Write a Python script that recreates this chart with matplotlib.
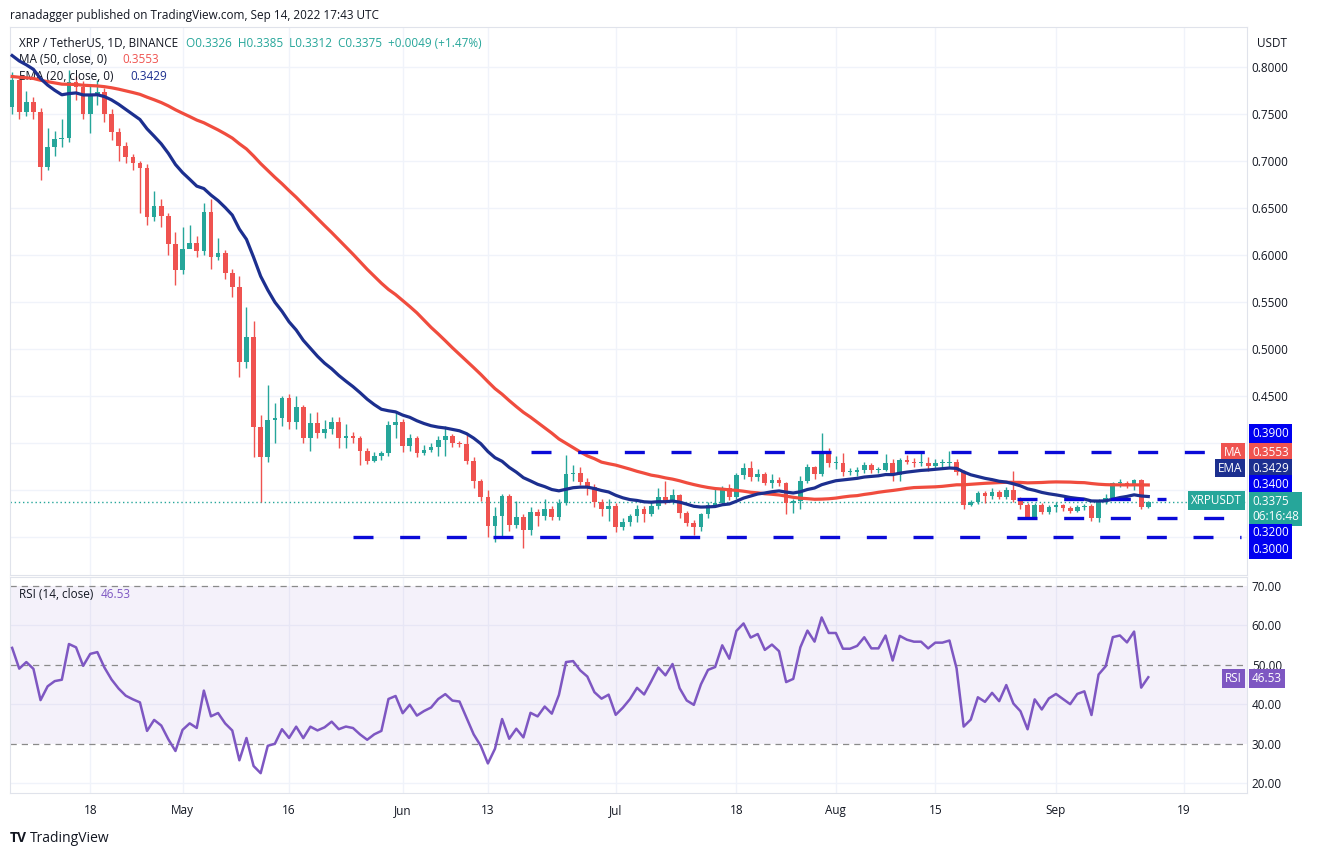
import numpy as np
import pandas as pd
import matplotlib
matplotlib.use("Agg")
import matplotlib.pyplot as plt
from matplotlib.patches import Rectangle
import matplotlib.transforms as mtransforms

plt.rcParams['font.family'] = ['Open Sans', 'DejaVu Sans']

# daily closes, XRP/USDT, Apr 7 .. Sep 14 2022
closes = [
    0.786, 0.752, 0.763, 0.752, 0.694, 0.715, 0.723, 0.725, 0.784, 0.779,
    0.750, 0.770, 0.773, 0.750, 0.731, 0.716, 0.704, 0.698, 0.693, 0.640,
    0.652, 0.641, 0.612, 0.584, 0.606, 0.613, 0.604, 0.646, 0.598, 0.602,
    0.581, 0.566, 0.486, 0.513, 0.417, 0.385, 0.424, 0.427, 0.448, 0.422,
    0.438, 0.405, 0.421, 0.411, 0.415, 0.422, 0.405, 0.408, 0.405, 0.392,
    0.381, 0.386, 0.389, 0.419, 0.422, 0.397, 0.405, 0.389, 0.393, 0.396,
    0.403, 0.407, 0.400, 0.399, 0.381, 0.360, 0.343, 0.312, 0.322, 0.344,
    0.313, 0.321, 0.307, 0.327, 0.322, 0.330, 0.321, 0.336, 0.367, 0.368,
    0.359, 0.353, 0.337, 0.330, 0.333, 0.311,
    0.316, 0.322, 0.330, 0.324, 0.333, 0.343, 0.337, 0.345, 0.326, 0.315,
    0.311, 0.324, 0.334, 0.336, 0.352, 0.343, 0.366, 0.373, 0.364, 0.367,
    0.357, 0.361, 0.357, 0.336, 0.338, 0.360, 0.374, 0.367, 0.389, 0.379,
    0.379, 0.369, 0.369, 0.371, 0.377, 0.371, 0.371, 0.379, 0.366, 0.382,
    0.380, 0.379, 0.379, 0.376, 0.379, 0.379, 0.380,
    0.369, 0.334, 0.337, 0.347, 0.344, 0.348, 0.343, 0.350, 0.339, 0.334,
    0.321, 0.334, 0.327, 0.332, 0.334, 0.331, 0.328, 0.332, 0.333, 0.320,
    0.337, 0.341, 0.357, 0.358, 0.355, 0.361, 0.332, 0.3375,
]
highs = [
    0.795, 0.790, 0.775, 0.768, 0.756, 0.735, 0.732, 0.745, 0.797, 0.790,
    0.785, 0.780, 0.786, 0.778, 0.755, 0.735, 0.720, 0.708, 0.700, 0.697,
    0.668, 0.660, 0.645, 0.625, 0.630, 0.632, 0.620, 0.655, 0.660, 0.618,
    0.605, 0.585, 0.578, 0.545, 0.530, 0.430, 0.462, 0.443, 0.450, 0.452,
    0.450, 0.440, 0.432, 0.433, 0.425, 0.428, 0.428, 0.420, 0.412, 0.407,
    0.395, 0.390, 0.392, 0.423, 0.433, 0.426, 0.410, 0.408, 0.398, 0.400,
    0.407, 0.418, 0.410, 0.402, 0.410, 0.385, 0.362, 0.350, 0.332, 0.346,
    0.346, 0.338, 0.325, 0.332, 0.330, 0.340, 0.333, 0.340, 0.387, 0.377,
    0.375, 0.363, 0.356, 0.340, 0.340, 0.336,
    0.320, 0.325, 0.334, 0.333, 0.338, 0.352, 0.360, 0.351, 0.346, 0.328,
    0.318, 0.326, 0.337, 0.352, 0.354, 0.356, 0.368, 0.379, 0.381, 0.372,
    0.369, 0.367, 0.364, 0.359, 0.340, 0.365, 0.378, 0.376, 0.411, 0.395,
    0.386, 0.389, 0.373, 0.375, 0.380, 0.379, 0.375, 0.388, 0.383, 0.384,
    0.387, 0.384, 0.390, 0.385, 0.383, 0.383, 0.392,
    0.383, 0.371, 0.339, 0.349, 0.349, 0.352, 0.350, 0.353, 0.370, 0.343,
    0.336, 0.336, 0.336, 0.334, 0.337, 0.335, 0.333, 0.334, 0.335, 0.335,
    0.340, 0.346, 0.359, 0.362, 0.360, 0.362, 0.362, 0.3385,
]
lows = [
    0.750, 0.745, 0.748, 0.745, 0.680, 0.690, 0.705, 0.715, 0.720, 0.765,
    0.745, 0.730, 0.760, 0.742, 0.722, 0.700, 0.698, 0.690, 0.645, 0.632,
    0.636, 0.630, 0.600, 0.568, 0.580, 0.608, 0.598, 0.600, 0.585, 0.595,
    0.575, 0.555, 0.470, 0.480, 0.385, 0.337, 0.380, 0.400, 0.418, 0.415,
    0.415, 0.400, 0.392, 0.405, 0.405, 0.410, 0.395, 0.395, 0.400, 0.377,
    0.378, 0.380, 0.382, 0.386, 0.405, 0.390, 0.392, 0.385, 0.387, 0.390,
    0.386, 0.386, 0.396, 0.396, 0.378, 0.352, 0.338, 0.300, 0.295, 0.300,
    0.306, 0.310, 0.288, 0.302, 0.312, 0.318, 0.318, 0.318, 0.334, 0.360,
    0.355, 0.345, 0.332, 0.322, 0.317, 0.305,
    0.307, 0.312, 0.316, 0.316, 0.322, 0.330, 0.335, 0.335, 0.320, 0.312,
    0.302, 0.306, 0.320, 0.332, 0.334, 0.339, 0.340, 0.362, 0.360, 0.360,
    0.355, 0.352, 0.354, 0.325, 0.326, 0.330, 0.358, 0.362, 0.365, 0.375,
    0.372, 0.365, 0.366, 0.365, 0.368, 0.368, 0.368, 0.370, 0.360, 0.360,
    0.378, 0.374, 0.376, 0.370, 0.372, 0.373, 0.374,
    0.366, 0.330, 0.333, 0.335, 0.336, 0.340, 0.340, 0.340, 0.337, 0.330,
    0.320, 0.320, 0.324, 0.324, 0.327, 0.328, 0.326, 0.327, 0.329, 0.317,
    0.316, 0.335, 0.339, 0.353, 0.352, 0.350, 0.330, 0.3312,
]
first_open = 0.757
ma50_start = 0.790   # 50-day MA level at the left edge
ema20_start = 0.815  # 20-day EMA level at the left edge
rsi_last = 46.53

levels = [0.39, 0.34, 0.32, 0.30]
level_span = [(73, 173), (141.5, 162.5), (141.5, 171.5), (48, 173)]

tick_pos = [11, 24, 39, 55, 67, 85, 102, 116, 130, 147, 165]
tick_lab = ['18', 'May', '16', 'Jun', '13', 'Jul', '18', 'Aug', '15', 'Sep', '19']
price_ticks = [0.45, 0.50, 0.55, 0.60, 0.65, 0.70, 0.75, 0.80]

n = len(closes)
c = np.array(closes)
o = np.concatenate([[first_open], c[:-1]])
h = np.array(highs)
l = np.array(lows)
x = np.arange(n)

ma = pd.Series([ma50_start] * 49 + closes).rolling(50).mean().to_numpy()[49:]
ema = np.zeros(n)
prev = ema20_start
for i in range(n):
    prev = prev + (c[i] - prev) * 2 / 21
    ema[i] = prev

ag, al = 0.012, 0.012
rsi = np.zeros(n)
pc = first_open
for i in range(n):
    d = c[i] - pc
    ag = (ag * 13 + max(d, 0)) / 14
    al = (al * 13 + max(-d, 0)) / 14
    rsi[i] = 100 - 100 / (1 + ag / al)
    pc = c[i]

GREEN, RED = '#26a69a', '#ef5350'
GRID = '#f0f3fa'
TXT = '#131722'

fig = plt.figure(figsize=(13.24, 8.56), dpi=100)
ax = fig.add_axes([10 / 1324, 1 - 575 / 856, 1237 / 1324, 548 / 856])
ar = fig.add_axes([10 / 1324, 1 - 793 / 856, 1237 / 1324, 216 / 856], sharex=ax)

for a in (ax, ar):
    for s in a.spines.values():
        s.set_color('#e0e3eb')
    a.tick_params(length=0, colors=TXT, labelsize=8.5)
    for t in tick_pos:
        a.axvline(t, color=GRID, lw=1, zorder=0)

for p in price_ticks + [0.35, 0.40, 0.30]:
    ax.axhline(p, color=GRID, lw=1, zorder=0)

ax.set_xlim(-0.3, 173.9)
ax.set_ylim(0.2596, 0.8426)
ax.yaxis.tick_right()
ax.set_yticks(price_ticks)
ax.set_yticklabels(['%.4f' % p for p in price_ticks])
ax.tick_params(axis='x', labelbottom=False)

for i in range(n):
    col = GREEN if c[i] >= o[i] else RED
    ax.vlines(x[i], l[i], h[i], color=col, lw=1, zorder=3)
    lo_b = min(o[i], c[i])
    hb = max(abs(c[i] - o[i]), 0.0012)
    ax.add_patch(Rectangle((x[i] - 0.33, lo_b), 0.66, hb, color=col, zorder=4, lw=0))

ax.plot(x, ma, color='#f04c3e', lw=2.3, zorder=5)
ax.plot(x, ema, color='#1c2f8f', lw=2.3, zorder=5)

for lv, (a0, a1) in zip(levels, level_span):
    ax.plot([a0, a1], [lv, lv], color='#0a0ad8', lw=2.4, ls=(0, (6, 8)), zorder=6)

ax.axhline(c[-1], color=GREEN, lw=1, ls=(0, (1, 2)), zorder=2)

trans = mtransforms.blended_transform_factory(ax.transAxes, ax.transData)
def box(y, txt, fc, dy=0.0, xpos=1.004, ha='left'):
    ax.text(xpos, y + dy, txt, transform=trans, color='white', fontsize=8.5,
            ha=ha, va='center', clip_on=False, zorder=10,
            bbox=dict(boxstyle='square,pad=0.25', fc=fc, ec='none'))

box(0.39, '0.3900', '#0000f0', dy=0.0206)
box(0.3553, '0.3553', '#ef5350', dy=0.0351)
box(0.3429, '0.3429', '#1c2f8f', dy=0.0305)
box(0.34, '0.3400', '#0000f0', dy=0.0164)
box(0.3375, '0.3375\n06:16:48', GREEN, dy=-0.0075)
box(0.32, '0.3200', '#0000f0', dy=-0.0157)
box(0.30, '0.3000', '#0000f0', dy=-0.0128)
box(0.3553, 'MA', '#ef5350', dy=0.0351, xpos=0.996, ha='right')
box(0.3429, 'EMA', '#1c2f8f', dy=0.0305, xpos=0.996, ha='right')
box(0.3375, 'XRPUSDT', GREEN, dy=0.0010, xpos=0.996, ha='right')
ax.text(1.008, 0.97, 'USDT', transform=ax.transAxes, fontsize=8.5, color=TXT, va='center')

ax.text(0.007, 0.97, 'XRP / TetherUS, 1D, BINANCE  ', transform=ax.transAxes,
        fontsize=8.5, color=TXT, va='center')
ax.text(0.142, 0.97, 'O0.3326  H0.3385  L0.3312  C0.3375  +0.0049 (+1.47%)',
        transform=ax.transAxes, fontsize=8.5, color=GREEN, va='center')
ax.text(0.007, 0.94, 'MA (50, close, 0)', transform=ax.transAxes, fontsize=8.5, color=TXT, va='center')
ax.text(0.091, 0.94, '0.3553', transform=ax.transAxes, fontsize=8.5, color='#ef5350', va='center')
ax.text(0.007, 0.91, 'EMA (20, close, 0)', transform=ax.transAxes, fontsize=8.5, color=TXT, va='center')
ax.text(0.097, 0.91, '0.3429', transform=ax.transAxes, fontsize=8.5, color='#1c2f8f', va='center')

# RSI panel
ar.set_ylim(17.5, 72.2)
ar.yaxis.tick_right()
ar.set_yticks([20, 30, 40, 50, 60, 70])
ar.set_yticklabels(['%.2f' % v for v in [20, 30, 40, 50, 60, 70]])
for v in [40, 60, 20]:
    ar.axhline(v, color=GRID, lw=1, zorder=0)
ar.axhspan(30, 70, color='#7e57c2', alpha=0.08, lw=0, zorder=1)
for v in [30, 50, 70]:
    ar.axhline(v, color='#8a8a8a', lw=0.9, ls=(0, (5, 4)), zorder=2)
ar.plot(x, rsi, color='#7e57c2', lw=1.8, zorder=5)
ar.set_xticks(tick_pos)
ar.set_xticklabels(tick_lab)
ar.tick_params(axis='x', pad=8)
ar.text(0.007, 0.92, 'RSI (14, close)', transform=ar.transAxes, fontsize=8.5, color=TXT, va='center')
ar.text(0.073, 0.92, '%.2f' % rsi_last, transform=ar.transAxes, fontsize=8.5, color='#7e57c2', va='center')
trans_r = mtransforms.blended_transform_factory(ar.transAxes, ar.transData)
ar.text(1.004, rsi_last, '%.2f' % rsi_last, transform=trans_r, color='white', fontsize=8.5,
        va='center', clip_on=False, bbox=dict(boxstyle='square,pad=0.25', fc='#7e57c2', ec='none'))
ar.text(0.996, rsi_last, 'RSI', transform=trans_r, color='white', fontsize=8.5, ha='right',
        va='center', clip_on=False, bbox=dict(boxstyle='square,pad=0.25', fc='#7e57c2', ec='none'))

fig.text(10 / 1324, 1 - 838 / 856, 'TV', fontsize=10, color=TXT, va='center', weight='bold')
fig.text(30 / 1324, 1 - 838 / 856, 'TradingView', fontsize=10, color=TXT, va='center')
fig.text(10 / 1324, 1 - 15 / 856, 'ranadagger published on TradingView.com, Sep 14, 2022 17:43 UTC',
         fontsize=8.5, color=TXT, va='center')

fig.savefig('out.png', dpi=100, facecolor='white')
